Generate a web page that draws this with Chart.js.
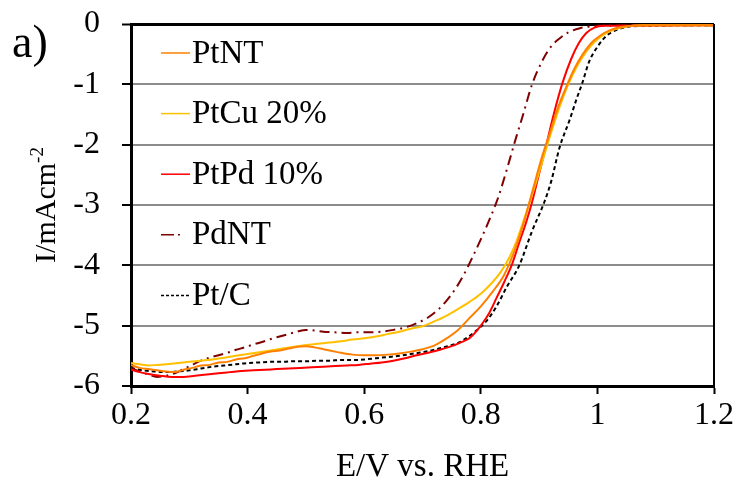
<!DOCTYPE html>
<html>
<head>
<meta charset="utf-8">
<script src="https://cdn.jsdelivr.net/npm/chart.js@4.4.1/dist/chart.umd.min.js"></script>
<style>
  html, body { margin: 0; padding: 0; background: #fff; }
  canvas { display: block; }
</style>
</head>
<body>
<canvas id="c" width="739" height="491"></canvas>
<script>
// Oxygen reduction polarisation curves, current density vs. potential
const seriesNames = ['PtNT', 'PtCu 20%', 'PtPd 10%', 'PdNT', 'Pt/C'];

const xTickValues = [0.2, 0.4, 0.6, 0.8, 1.0, 1.2];
const xTickLabels = ['0.2', '0.4', '0.6', '0.8', '1', '1.2'];
const yTickValues = [0, -1, -2, -3, -4, -5, -6];
const yTickLabels = ['0', '-1', '-2', '-3', '-4', '-5', '-6'];

const ptntE = [0.200,0.215,0.230,0.245,0.260,0.275,0.290,0.305,0.320,0.335,0.350,0.365,0.380,0.395,0.410,0.425,0.440,0.455,0.470,0.485,0.500,0.515,0.530,0.545,0.560,0.580,0.600,0.620,0.640,0.660,0.680,0.700,0.720,0.740,0.760,0.780,0.800,0.820,0.840,0.860,0.875,0.890,0.905,0.917,0.930,0.945,0.960,0.975,0.990,1.005,1.020,1.040,1.060,1.100,1.150,1.200];
const ptntI = [-5.65,-5.70,-5.72,-5.74,-5.76,-5.77,-5.73,-5.70,-5.66,-5.65,-5.61,-5.60,-5.56,-5.54,-5.50,-5.46,-5.43,-5.41,-5.38,-5.35,-5.34,-5.36,-5.39,-5.42,-5.45,-5.48,-5.49,-5.49,-5.48,-5.46,-5.43,-5.39,-5.33,-5.22,-5.08,-4.88,-4.68,-4.44,-4.16,-3.70,-3.25,-2.72,-2.20,-1.85,-1.45,-1.08,-0.75,-0.50,-0.31,-0.19,-0.11,-0.05,-0.03,-0.02,-0.02,-0.02];

const ptcuE = [0.200,0.215,0.230,0.245,0.260,0.280,0.300,0.320,0.340,0.360,0.380,0.400,0.420,0.440,0.460,0.480,0.500,0.520,0.540,0.560,0.580,0.600,0.620,0.640,0.660,0.680,0.700,0.720,0.740,0.760,0.780,0.800,0.820,0.835,0.850,0.862,0.872,0.884,0.895,0.908,0.920,0.935,0.950,0.965,0.980,0.995,1.010,1.030,1.050,1.080,1.200];
const ptcuI = [-5.62,-5.64,-5.66,-5.65,-5.64,-5.62,-5.60,-5.58,-5.56,-5.53,-5.50,-5.47,-5.44,-5.41,-5.38,-5.35,-5.32,-5.30,-5.28,-5.26,-5.23,-5.21,-5.18,-5.14,-5.10,-5.05,-5.01,-4.93,-4.84,-4.73,-4.61,-4.47,-4.28,-4.10,-3.85,-3.58,-3.30,-2.95,-2.62,-2.20,-1.82,-1.38,-1.00,-0.70,-0.47,-0.30,-0.18,-0.09,-0.04,-0.02,-0.02];

const ptpdE = [0.200,0.215,0.230,0.250,0.270,0.290,0.310,0.330,0.350,0.370,0.390,0.410,0.430,0.450,0.470,0.490,0.510,0.530,0.550,0.570,0.590,0.610,0.630,0.650,0.670,0.690,0.710,0.730,0.750,0.765,0.780,0.790,0.803,0.815,0.827,0.840,0.854,0.866,0.878,0.888,0.897,0.912,0.925,0.940,0.955,0.968,0.981,0.995,1.010,1.200];
const ptpdI = [-5.73,-5.77,-5.80,-5.83,-5.85,-5.85,-5.83,-5.81,-5.79,-5.77,-5.75,-5.74,-5.73,-5.72,-5.71,-5.70,-5.69,-5.68,-5.67,-5.66,-5.65,-5.63,-5.61,-5.58,-5.54,-5.49,-5.45,-5.40,-5.34,-5.28,-5.21,-5.12,-4.96,-4.78,-4.54,-4.28,-3.97,-3.62,-3.28,-2.95,-2.60,-2.02,-1.50,-0.98,-0.58,-0.32,-0.15,-0.06,-0.03,-0.02];

const pdntE = [0.200,0.215,0.230,0.245,0.260,0.275,0.290,0.305,0.320,0.335,0.350,0.365,0.380,0.395,0.410,0.425,0.440,0.455,0.470,0.485,0.500,0.515,0.530,0.550,0.570,0.590,0.610,0.630,0.650,0.670,0.690,0.710,0.725,0.740,0.755,0.770,0.785,0.800,0.815,0.830,0.845,0.860,0.872,0.888,0.905,0.920,0.935,0.950,0.970,1.000,1.100,1.200];
const pdntI = [-5.70,-5.76,-5.81,-5.85,-5.83,-5.79,-5.72,-5.65,-5.58,-5.53,-5.49,-5.45,-5.40,-5.36,-5.31,-5.27,-5.22,-5.18,-5.14,-5.10,-5.07,-5.08,-5.10,-5.11,-5.12,-5.11,-5.11,-5.10,-5.07,-5.03,-4.96,-4.86,-4.75,-4.60,-4.41,-4.17,-3.88,-3.57,-3.24,-2.87,-2.40,-1.90,-1.52,-1.00,-0.62,-0.38,-0.24,-0.14,-0.07,-0.03,-0.02,-0.02];

const ptcE = [0.200,0.220,0.240,0.260,0.280,0.300,0.320,0.340,0.360,0.380,0.400,0.420,0.440,0.460,0.480,0.500,0.520,0.540,0.560,0.580,0.600,0.620,0.640,0.660,0.680,0.700,0.720,0.740,0.760,0.770,0.790,0.810,0.827,0.845,0.866,0.888,0.909,0.921,0.935,0.952,0.964,0.974,0.986,1.000,1.015,1.030,1.050,1.080,1.200];
const ptcI = [-5.70,-5.74,-5.76,-5.77,-5.76,-5.74,-5.71,-5.68,-5.66,-5.64,-5.62,-5.61,-5.60,-5.60,-5.59,-5.59,-5.58,-5.58,-5.57,-5.57,-5.56,-5.54,-5.52,-5.50,-5.47,-5.44,-5.40,-5.35,-5.29,-5.24,-5.10,-4.92,-4.68,-4.35,-4.00,-3.43,-2.95,-2.60,-2.05,-1.60,-1.25,-0.98,-0.62,-0.38,-0.20,-0.11,-0.05,-0.03,-0.02];

const serif = "'Liberation Serif', 'Times New Roman', serif";

function pts(xs, ys) { return xs.map((x, i) => ({ x: x, y: ys[i] })); }

function series(label, xs, ys, color, dash, legendDash) {
  return {
    label: label,
    data: pts(xs, ys),
    borderColor: color,
    backgroundColor: color,
    borderWidth: 2,
    borderDash: dash,
    legendDash: legendDash,
    pointRadius: 0,
    fill: false,
    cubicInterpolationMode: 'monotone',
    showLine: true
  };
}

// Legend list, panel letter, y-axis title with superscript and the right frame edge
const decor = {
  id: 'decor',
  afterDraw(chart) {
    const ctx = chart.ctx;
    const a = chart.chartArea;
    ctx.save();

    ctx.strokeStyle = '#000';
    ctx.lineWidth = 2;
    ctx.setLineDash([]);
    ctx.beginPath();
    ctx.moveTo(a.right, a.top);
    ctx.lineTo(a.right, a.bottom);
    ctx.stroke();

    ctx.font = '33px ' + serif;
    ctx.textBaseline = 'middle';
    ctx.textAlign = 'left';
    chart.data.datasets.forEach((ds, i) => {
      const cy = a.top + 29 + i * 60.6;
      ctx.strokeStyle = ds.borderColor;
      ctx.lineWidth = 1.5;
      ctx.setLineDash(ds.legendDash || []);
      ctx.beginPath();
      ctx.moveTo(a.left + 30, cy);
      ctx.lineTo(a.left + 59, cy);
      ctx.stroke();
      ctx.setLineDash([]);
      ctx.fillStyle = '#000';
      ctx.fillText(ds.label, a.left + 61, cy + 1);
    });

    ctx.font = '46px ' + serif;
    ctx.fillStyle = '#000';
    ctx.fillText('a)', 12, 45);

    // y-axis title
    ctx.translate(55, (a.top + a.bottom) / 2);
    ctx.rotate(-Math.PI / 2);
    ctx.textBaseline = 'alphabetic';
    const main = 'I/mAcm';
    const sup = '-2';
    ctx.font = '30px ' + serif;
    const w1 = ctx.measureText(main).width;
    ctx.font = '19px ' + serif;
    const w2 = ctx.measureText(sup).width;
    const start = -(w1 + w2) / 2;
    ctx.font = '30px ' + serif;
    ctx.fillText(main, start, 0);
    ctx.font = '19px ' + serif;
    ctx.fillText(sup, start + w1, -12);
    ctx.restore();
  }
};

new Chart(document.getElementById('c'), {
  type: 'scatter',
  data: {
    datasets: [
      series(seriesNames[0], ptntE, ptntI, '#FF8000', [], []),
      series(seriesNames[1], ptcuE, ptcuI, '#FFC000', [], []),
      series(seriesNames[2], ptpdE, ptpdI, '#FF0000', [], []),
      series(seriesNames[3], pdntE, pdntI, '#800000', [10, 5, 2, 5], [13, 4, 2, 10]),
      series(seriesNames[4], ptcE, ptcI, '#000000', [4, 3], [3, 2])
    ]
  },
  options: {
    responsive: false,
    animation: false,
    events: [],
    layout: { padding: { top: 24, right: 25, left: 0, bottom: 0 } },
    plugins: {
      legend: { display: false },
      tooltip: { enabled: false }
    },
    scales: {
      x: {
        type: 'linear',
        min: 0.2,
        max: 1.2,
        afterBuildTicks: s => { s.ticks = xTickValues.map(v => ({ value: v })); },
        afterFit: s => { s.height = 105; s.paddingRight = 0; s.paddingLeft = 0; },
        ticks: {
          color: '#000',
          font: { family: serif, size: 32 },
          padding: 2,
          maxRotation: 0,
          callback: (v) => xTickLabels[xTickValues.findIndex(t => Math.abs(t - v) < 1e-9)]
        },
        grid: {
          drawOnChartArea: false,
          drawTicks: true,
          tickLength: 8,
          tickColor: '#000',
          tickWidth: 2
        },
        border: { color: '#000', width: 3 },
        title: {
          display: true,
          text: 'E/V vs. RHE',
          color: '#000',
          font: { family: serif, size: 33 },
          padding: { top: 0, bottom: 4 }
        }
      },
      y: {
        type: 'linear',
        min: -6,
        max: 0,
        afterBuildTicks: s => { s.ticks = yTickValues.map(v => ({ value: v })); },
        afterFit: s => { s.width = 131; s.paddingTop = 0; s.paddingBottom = 0; },
        ticks: {
          color: '#000',
          font: { family: serif, size: 32 },
          padding: 22,
          callback: (v) => yTickLabels[yTickValues.indexOf(v)]
        },
        grid: {
          color: c => (c.tick && (c.tick.value === 0 || c.tick.value === -6)) ? '#000' : '#8c8c8c',
          lineWidth: c => (c.tick && c.tick.value === 0) ? 3 : 2,
          drawTicks: true,
          tickLength: 9,
          tickColor: '#000',
          tickWidth: 2
        },
        border: { color: '#000', width: 3 }
      }
    }
  },
  plugins: [decor]
});
</script>
</body>
</html>
